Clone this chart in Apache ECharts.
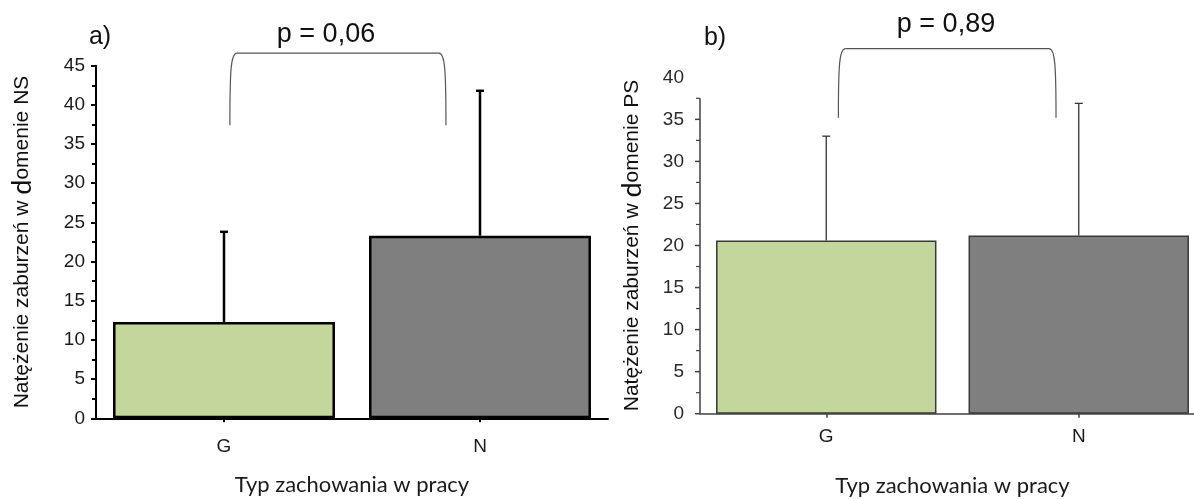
<!DOCTYPE html>
<html>
<head>
<meta charset="utf-8">
<script src="https://cdn.jsdelivr.net/npm/echarts@6/dist/echarts.min.js"></script>
<style>
html,body{margin:0;padding:0;background:#fff;}
#chart{width:1194px;height:499px;}
</style>
</head>
<body>
<div id="chart"></div>
<script>
// ---- data ----
const categories = ['G', 'N'];
// panel a) – domain NS
const meanNS = [12.3, 23.3];
const sdTopNS = [23.8, 41.8];
const pNS = 'p = 0,06';
const bracketNS = [46.6, 37.4];   // [top, bottom] in axis units
// panel b) – domain PS
const meanPS = [20.6, 21.2];
const sdTopPS = [33.0, 36.9];
const pPS = 'p = 0,89';
const bracketPS = [43.4, 35.2];
const yTicksNS = [0, 45, 5];
const yTicksPS = [0, 40, 5];
const axisLineTopPS = 37.5;       // drawn axis line of panel b) stops here
const barColors = ['#c3d69b', '#7f7f7f'];

const chart = echarts.init(document.getElementById('chart'), null, {renderer: 'canvas'});

function errorSeries(gridIdx, means, tops, color, width, cap) {
  return {
    type: 'custom',
    xAxisIndex: gridIdx, yAxisIndex: gridIdx,
    z: 5,
    data: means.map((m, i) => [i, m, tops[i]]),
    renderItem: function (params, api) {
      const b = api.coord([api.value(0), api.value(1)]);
      const t = api.coord([api.value(0), api.value(2)]);
      const st = {stroke: color, lineWidth: width};
      return {type: 'group', children: [
        {type: 'line', shape: {x1: b[0], y1: b[1], x2: t[0], y2: t[1]}, style: st},
        {type: 'line', shape: {x1: t[0] - cap, y1: t[1], x2: t[0] + cap, y2: t[1]}, style: st}
      ]};
    }
  };
}

function bracketSeries(gridIdx, br, offL, offR, color) {
  return {
    type: 'custom',
    xAxisIndex: gridIdx, yAxisIndex: gridIdx,
    clip: false,
    z: 5,
    data: [[0, 1, br[0], br[1]]],
    renderItem: function (params, api) {
      const bw = api.size([1, 0])[0];
      const pL = api.coord([api.value(0), api.value(3)]);
      const pR = api.coord([api.value(1), api.value(3)]);
      const yt = api.coord([0, api.value(2)])[1];
      const yb = pL[1];
      const x1 = pL[0] + offL * bw, x2 = pR[0] + offR * bw;
      const st = {stroke: color, lineWidth: 1.2, fill: null};
      const r = 7;
      return {type: 'group', children: [
        {type: 'bezierCurve', shape: {x1: x1, y1: yb, cpx1: x1, cpy1: yt + 16, cpx2: x1 + 1, cpy2: yt, x2: x1 + r, y2: yt}, style: st},
        {type: 'line', shape: {x1: x1 + r, y1: yt, x2: x2 - r, y2: yt}, style: st},
        {type: 'bezierCurve', shape: {x1: x2, y1: yb, cpx1: x2, cpy1: yt + 16, cpx2: x2 - 1, cpy2: yt, x2: x2 - r, y2: yt}, style: st}
      ]};
    }
  };
}

// axis line of panel b) (it stops below the top label), with major and minor ticks
function shortAxisSeries(gridIdx, top, step, color) {
  return {
    type: 'custom',
    xAxisIndex: gridIdx, yAxisIndex: gridIdx,
    clip: false,
    z: 6,
    silent: true,
    data: [[0, top]],
    renderItem: function (params, api) {
      const bw = api.size([1, 0])[0];
      const p0 = api.coord([0, 0]);
      const x = p0[0] - bw / 2;
      const yTop = api.coord([0, api.value(1)])[1];
      const st = {stroke: color, lineWidth: 1.5};
      const kids = [{type: 'line', shape: {x1: x, y1: p0[1], x2: x, y2: yTop}, style: st}];
      for (let v = 0; v <= api.value(1) + 1e-9; v += step / 2) {
        const y = api.coord([0, v])[1];
        const major = Math.abs(v / step - Math.round(v / step)) < 1e-6;
        kids.push({type: 'line', shape: {x1: x - (major ? 5 : 4), y1: y, x2: x, y2: y}, style: {stroke: color, lineWidth: major ? 1.5 : 1.2}});
      }
      return {type: 'group', children: kids};
    }
  };
}

function yName(tail) {
  return 'Natężenie zaburzeń w {d|d}omenie ' + tail;
}

const labelFont = {fontFamily: 'Liberation Sans', fontSize: 19, color: '#1a1a1a'};
const nameFont = {fontFamily: 'Lato', fontSize: 22, color: '#1a1a1a'};
const yNameStyle = {fontFamily: 'Liberation Sans', fontSize: 21, color: '#111',
  rich: {d: {fontFamily: 'Lato', fontSize: 27, color: '#111'}}};

const option = {
  animation: false,
  backgroundColor: '#fff',
  grid: [
    {left: 96, top: 65.7, width: 512, height: 352.6, outerBoundsMode: 'none'},
    {left: 700, top: 77.3, width: 505, height: 336.4, outerBoundsMode: 'none'}
  ],
  xAxis: [
    {gridIndex: 0, type: 'category', data: categories,
     axisLine: {lineStyle: {color: '#000', width: 2}},
     axisTick: {show: true, alignWithLabel: true, length: 4, lineStyle: {color: '#000', width: 2}},
     axisLabel: Object.assign({margin: 19}, labelFont),
     name: 'Typ zachowania w pracy', nameLocation: 'middle', nameGap: 56,
     nameTextStyle: nameFont},
    {gridIndex: 1, type: 'category', data: categories,
     axisLine: {lineStyle: {color: '#404040', width: 1.5}},
     axisTick: {show: true, alignWithLabel: true, length: 4, lineStyle: {color: '#404040', width: 1.5}},
     axisLabel: Object.assign({margin: 14}, labelFont),
     name: 'Typ zachowania w pracy', nameLocation: 'middle', nameGap: 61,
     nameTextStyle: nameFont}
  ],
  yAxis: [
    {gridIndex: 0, type: 'value', min: yTicksNS[0], max: yTicksNS[1], interval: yTicksNS[2],
     axisLine: {show: true, lineStyle: {color: '#000', width: 2}},
     axisTick: {show: true, length: 5, lineStyle: {color: '#000', width: 2}},
     minorTick: {show: true, splitNumber: 2, length: 4, lineStyle: {color: '#000', width: 2}},
     splitLine: {show: false},
     axisLabel: Object.assign({margin: 11}, labelFont),
     name: yName('NS'), nameLocation: 'middle', nameGap: 60, nameRotate: 90,
     nameTextStyle: yNameStyle},
    {gridIndex: 1, type: 'value', min: yTicksPS[0], max: yTicksPS[1], interval: yTicksPS[2],
     axisLine: {show: false},
     axisTick: {show: false},
     splitLine: {show: false},
     axisLabel: Object.assign({margin: 16}, labelFont, {color: '#2a2a2a'}),
     name: yName('PS'), nameLocation: 'middle', nameGap: 54, nameRotate: 90,
     nameTextStyle: yNameStyle}
  ],
  series: [
    {type: 'bar', xAxisIndex: 0, yAxisIndex: 0, barWidth: '86.7%',
     data: meanNS.map((v, i) => ({value: v, itemStyle: {color: barColors[i]}})),
     itemStyle: {borderColor: '#000', borderWidth: 2.5}},
    errorSeries(0, meanNS, sdTopNS, '#000', 2.5, 4),
    bracketSeries(0, bracketNS, 0.023, -0.133, '#555'),
    {type: 'bar', xAxisIndex: 1, yAxisIndex: 1, barWidth: '87.3%',
     data: meanPS.map((v, i) => ({value: v, itemStyle: {color: barColors[i]}})),
     itemStyle: {borderColor: '#383838', borderWidth: 1.5}},
    errorSeries(1, meanPS, sdTopPS, '#333', 1.3, 4),
    bracketSeries(1, bracketPS, 0.048, -0.09, '#555'),
    shortAxisSeries(1, axisLineTopPS, yTicksPS[2], '#404040')
  ],
  graphic: [
    {type: 'text', x: 100, y: 37, style: {text: 'a)', fontFamily: 'Liberation Sans', fontSize: 25, fill: '#111', align: 'center', verticalAlign: 'middle'}},
    {type: 'text', x: 715, y: 38, style: {text: 'b)', fontFamily: 'Liberation Sans', fontSize: 25, fill: '#111', align: 'center', verticalAlign: 'middle'}},
    {type: 'text', x: 326, y: 35, style: {text: pNS, fontFamily: 'Liberation Sans', fontSize: 27, fill: '#111', align: 'center', verticalAlign: 'middle'}},
    {type: 'text', x: 946, y: 25, style: {text: pPS, fontFamily: 'Liberation Sans', fontSize: 27, fill: '#111', align: 'center', verticalAlign: 'middle'}}
  ]
};
chart.setOption(option);
</script>
</body>
</html>
